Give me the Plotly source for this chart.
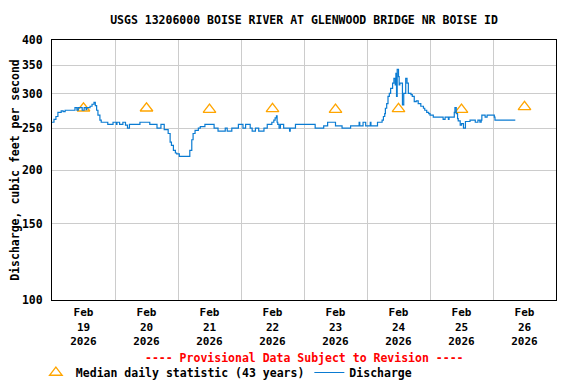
import math
import pandas as pd
import plotly.graph_objects as go

# Discharge (15-min data), hours since 2026-02-19 00:00 and cfs
hours = [0, 0.75, 1.5, 2.25, 3.5, 4.25, 5, 8.75, 9.5, 10, 11.5, 12.25, 13, 13.25,
         14.5, 15.25, 16, 16.5, 17, 17.5, 18.25, 18.75, 21.25, 23.25,
         24.5, 24.75, 25.75, 27, 28, 28.75, 29.5, 33.5, 37.25, 40, 41.5, 42.75,
         44.25, 45, 45.5, 46.25, 47, 47.5, 48.5,
         52.5, 53.25, 53.75, 54.5, 55.75, 56.5, 58.25, 61.75, 63.25, 66, 66.75, 68.5,
         71, 72.75, 73.75, 75.5, 76.25, 77.5, 78.75, 80.75, 82, 83.75, 84.5, 85,
         85.5, 85.75, 86, 86.5, 87, 88.25, 90.5, 90.75, 92.75,
         100.25, 103.5, 105, 108, 110.5, 113.75, 117, 117.25, 118.5, 119.5,
         121.25, 121.5, 124, 125.75, 126.25, 126.75, 127, 127.5, 128, 128.5,
         129, 129.75, 130.25, 130.75, 131, 131.25, 131.5, 132, 132.25, 132.5,
         133.5, 134, 134.75, 135.25, 135.75, 136.75, 137.25, 138, 138.75, 139.5,
         140.5, 141.5, 142, 142.75, 143.5, 144, 145.25, 149, 149.75, 151, 151.25,
         153.25, 153.5, 154, 154.5, 154.75, 155.5, 156, 156.75, 157.5, 159.25,
         161.25, 162.25, 163, 163.5, 163.75, 165, 165.75, 168.5, 168.75, 176.5]
cfs = [258, 262, 266, 272, 274, 273, 275, 279, 275, 279, 275, 279, 276, 279,
       281, 284, 287, 282, 275, 268, 261, 258, 255, 258,
       255, 258, 255, 258, 254, 250, 255, 258, 255, 250, 255, 248,
       243, 232, 228, 222, 219, 218, 215,
       222, 235, 243, 247, 250, 252, 255, 250, 246, 250, 246, 250,
       255, 250, 255, 250, 246, 250, 246, 250, 255, 258, 261, 264,
       267, 258, 255, 250, 255, 250, 246, 250, 255,
       250, 253, 258, 253, 250, 253, 258, 253, 258, 253,
       258, 253, 258, 261, 266, 270, 278, 285, 296, 301,
       309, 318, 326, 315, 335, 296, 342, 329, 315, 318,
       283, 301, 326, 318, 301, 299, 296, 288, 289, 285,
       281, 278, 275, 272, 270, 268, 265, 262, 265, 262, 265,
       272, 279, 270, 263, 260, 254, 256, 250, 259, 261,
       258, 261, 258, 261, 268, 265, 268, 265, 261, 261]

# Median daily statistic (43 years)
median_days = ["2026-02-19 12:00", "2026-02-20 12:00", "2026-02-21 12:00",
               "2026-02-22 12:00", "2026-02-23 12:00", "2026-02-24 12:00",
               "2026-02-25 12:00", "2026-02-26 12:00"]
median_cfs = [278, 278, 276, 277, 276, 277, 276, 280]

y_ticks = [100, 150, 200, 250, 300, 350, 400]

base = pd.Timestamp("2026-02-19 00:00")
times = [base + pd.Timedelta(hours=h) for h in hours]

FONT = "DejaVu Sans Mono"
# the page body adds an 8px offset; figure is sized so the window shows 576x384
W, H = 568, 376

fig = go.Figure()
fig.add_trace(go.Scatter(
    x=median_days, y=median_cfs, mode="markers",
    name="Median daily statistic (43 years)",
    marker=dict(symbol="triangle-up-open", size=11, color="#FFA500",
                line=dict(width=1.3, color="#FFA500")),
))
fig.add_trace(go.Scatter(
    x=times, y=cfs, mode="lines", name="Discharge",
    line=dict(color="#0A7BD2", width=1.2, shape="hv"),
))

fig.update_layout(
    width=W, height=H,
    margin=dict(l=44, r=20, t=32, b=84, autoexpand=False),
    paper_bgcolor="white", plot_bgcolor="white",
    font=dict(family=FONT, size=11.5, color="black", weight="bold"),
    title=dict(text="USGS 13206000 BOISE RIVER AT GLENWOOD BRIDGE NR BOISE ID",
               x=0.5, xref="paper", xanchor="center",
               y=1 - 12 / H, yref="container", yanchor="middle",
               font=dict(family=FONT, size=11.5, color="black", weight="bold")),
    showlegend=True,
    legend=dict(orientation="h", x=-0.032, xanchor="left", y=-0.223, yanchor="top",
                font=dict(family=FONT, size=11.5, color="black", weight="bold"),
                bgcolor="rgba(0,0,0,0)", itemwidth=30, tracegroupgap=0),
    annotations=[dict(text="---- Provisional Data Subject to Revision ----",
                      xref="paper", yref="paper", x=0.5, y=-0.223,
                      xanchor="center", yanchor="middle", showarrow=False,
                      font=dict(family=FONT, size=11.5, color="#FF0000", weight="bold"))],
)

fig.update_xaxes(
    type="date", range=["2026-02-19 00:00", "2026-02-27 00:00"],
    tick0="2026-02-19", dtick=86400000, ticklabelmode="period",
    tickformat="%b<br>%d<br>%Y", ticks="", automargin=False,
    tickfont=dict(family=FONT, size=11, color="black", weight="bold"),
    ticklabelstandoff=2,
    showgrid=True, gridcolor="#cccccc", gridwidth=1,
    showline=True, linecolor="black", linewidth=1, mirror=True, zeroline=False,
)
fig.update_yaxes(
    type="log", range=[2, math.log10(400)],
    tickvals=y_ticks, ticktext=[str(v) for v in y_ticks], ticks="",
    ticklabelstandoff=6, automargin=False,
    showgrid=True, gridcolor="#cccccc", gridwidth=1,
    showline=True, linecolor="black", linewidth=1, mirror=True, zeroline=False,
    title=dict(text="Discharge, cubic feet per second", standoff=1,
               font=dict(family=FONT, size=11.5, color="black", weight="bold")),
)

fig.write_html("out.html")
